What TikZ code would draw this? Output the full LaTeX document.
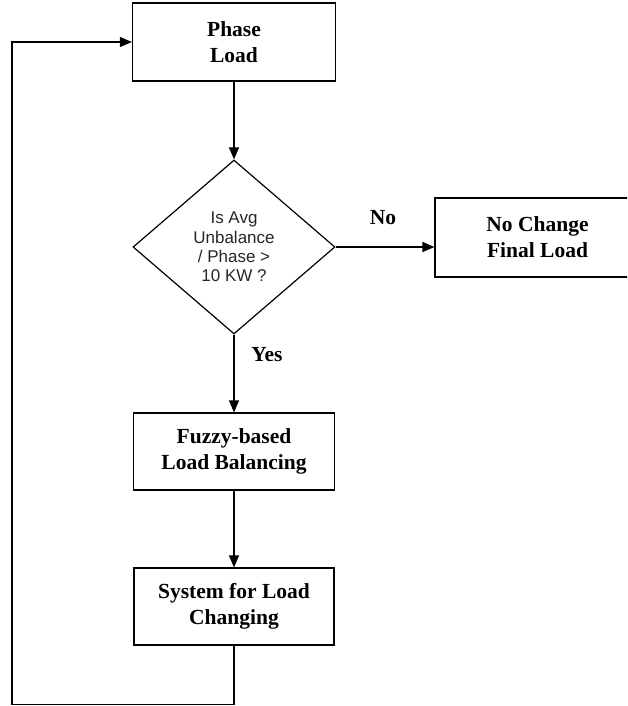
\documentclass[tikz,border=0pt]{standalone}
\usepackage{fontspec}
\setmainfont{Liberation Serif}
\newfontfamily\arialfont{Liberation Sans}
\usepackage{tikz}
\usetikzlibrary{arrows.meta, shapes.geometric}

\tikzset{
  stepbox/.style={draw, line width=1.2pt, align=center, inner sep=0pt,
    font=\bfseries\fontsize{21.5}{26}\selectfont},
  decision/.style={draw, diamond, line width=1.2pt, align=center, inner sep=0pt,
    aspect=1.16, minimum width=202pt, minimum height=174pt,
    text=black!85, font=\arialfont\fontsize{17}{19.3}\selectfont},
  answer/.style={font=\bfseries\fontsize{21.5}{26}\selectfont},
  flow/.style={line width=1.2pt, -{Triangle[length=12pt, width=10pt]}},
}

\begin{document}
\begin{tikzpicture}[x=1pt, y=-1pt]
        \clip (0, 0) rectangle (627, 706);
        % Boxes
        \node [stepbox, minimum width=203pt, minimum height=78pt] (phase) at (234, 42) {Phase\\Load};
        \node [decision] (dec) at (234, 247) {Is Avg\\Unbalance\\/ Phase >\\10 KW ?};
        \node [stepbox, minimum width=205pt, minimum height=79pt] (nochange) at (537.5, 237.5) {No Change\\Final Load};
        \node [stepbox, minimum width=201pt, minimum height=77pt] (fuzzy) at (234, 451.5) {Fuzzy-based\\Load Balancing};
        \node [stepbox, minimum width=200pt, minimum height=77pt] (sys) at (234, 606.5) {System for Load\\Changing};
        % Labels
        \node [answer] (no) at (383, 218) {No};
        \node [answer] (yes) at (267, 355) {Yes};
        % Arrows
        \draw [flow] (phase) -- (dec);
        \draw [flow] (dec.east) -- (dec.east -| nochange.west);
        \draw [flow] (dec) -- (fuzzy);
        \draw [flow] (fuzzy) -- (sys);
        % Back to start
        \coordinate (low) at (234, 704.5);
        \coordinate (side) at (12, 704.5);
        \draw [flow] (sys.south) -- (low) -- (side) -- (side |- phase.west) -- (phase.west);
\end{tikzpicture}
\end{document}
